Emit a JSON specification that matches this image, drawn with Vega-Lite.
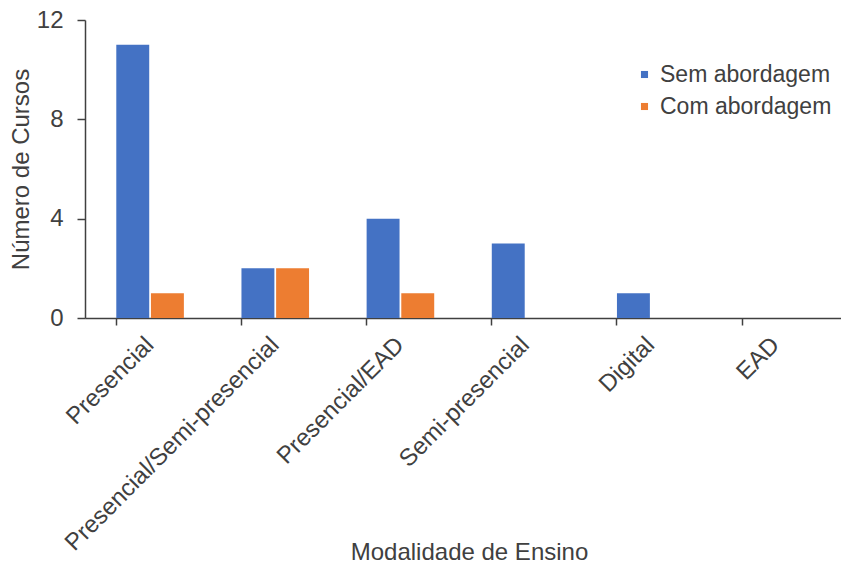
{
  "$schema": "https://vega.github.io/schema/vega-lite/v6.json",
  "width": 756,
  "height": 298,
  "autosize": "none",
  "padding": {"left": 85, "top": 20, "right": 0, "bottom": 248},
  "background": "white",
  "data": {
    "values": [
      {"modalidade": "Presencial", "serie": "Sem abordagem", "cursos": 11},
      {"modalidade": "Presencial", "serie": "Com abordagem", "cursos": 1},
      {"modalidade": "Presencial/Semi-presencial", "serie": "Sem abordagem", "cursos": 2},
      {"modalidade": "Presencial/Semi-presencial", "serie": "Com abordagem", "cursos": 2},
      {"modalidade": "Presencial/EAD", "serie": "Sem abordagem", "cursos": 4},
      {"modalidade": "Presencial/EAD", "serie": "Com abordagem", "cursos": 1},
      {"modalidade": "Semi-presencial", "serie": "Sem abordagem", "cursos": 3},
      {"modalidade": "Semi-presencial", "serie": "Com abordagem", "cursos": 0},
      {"modalidade": "Digital", "serie": "Sem abordagem", "cursos": 1},
      {"modalidade": "Digital", "serie": "Com abordagem", "cursos": 0},
      {"modalidade": "EAD", "serie": "Sem abordagem", "cursos": 0},
      {"modalidade": "EAD", "serie": "Com abordagem", "cursos": 0}
    ]
  },
  "mark": {"type": "bar"},
  "encoding": {
    "x": {
      "field": "modalidade",
      "type": "nominal",
      "sort": ["Presencial", "Presencial/Semi-presencial", "Presencial/EAD", "Semi-presencial", "Digital", "EAD"],
      "scale": {"paddingInner": 0.46, "paddingOuter": 0.25},
      "axis": {
        "title": "Modalidade de Ensino",
        "titleFontSize": 24,
        "titleFontWeight": "normal",
        "titleFont": "Liberation Sans",
        "titleColor": "#404040",
        "titleY": 241,
        "titleX": 384,
        "titleBaseline": "alphabetic",
        "labelAngle": -45,
        "labelAlign": "right",
        "labelBaseline": "middle",
        "labelFontSize": 24,
        "labelFont": "Liberation Sans",
        "labelColor": "#404040",
        "labelPadding": 16,
        "labelLimit": 500,
        "labelOverlap": false,
        "bandPosition": 0,
        "tickSize": 7,
        "tickColor": "#404040",
        "domainColor": "#404040",
        "domainWidth": 1.5,
        "tickWidth": 1.5,
        "grid": false
      }
    },
    "xOffset": {
      "field": "serie",
      "type": "nominal",
      "sort": ["Sem abordagem", "Com abordagem"],
      "scale": {"paddingInner": 0.05}
    },
    "y": {
      "field": "cursos",
      "type": "quantitative",
      "scale": {"domain": [0, 12]},
      "axis": {
        "title": "Número de Cursos",
        "titleFontSize": 24,
        "titleFontWeight": "normal",
        "titleFont": "Liberation Sans",
        "titleColor": "#404040",
        "titleX": -52,
        "titleBaseline": "bottom",
        "values": [0, 4, 8, 12],
        "labelFontSize": 24,
        "labelFont": "Liberation Sans",
        "labelColor": "#404040",
        "labelPadding": 14,
        "tickSize": 8,
        "tickColor": "#404040",
        "domainColor": "#404040",
        "domainWidth": 1.5,
        "tickWidth": 1.5,
        "grid": false
      }
    },
    "color": {
      "field": "serie",
      "type": "nominal",
      "sort": ["Sem abordagem", "Com abordagem"],
      "scale": {"domain": ["Sem abordagem", "Com abordagem"], "range": ["#4472C4", "#ED7D31"]},
      "legend": {
        "title": null,
        "orient": "none",
        "legendX": 548,
        "legendY": 43,
        "symbolType": "square",
        "symbolSize": 50,
        "labelFontSize": 23,
        "labelFont": "Liberation Sans",
        "labelColor": "#404040",
        "rowPadding": 8,
        "labelOffset": 4,
        "labelLimit": 400
      }
    }
  },
  "config": {
    "view": {"stroke": null}
  }
}
